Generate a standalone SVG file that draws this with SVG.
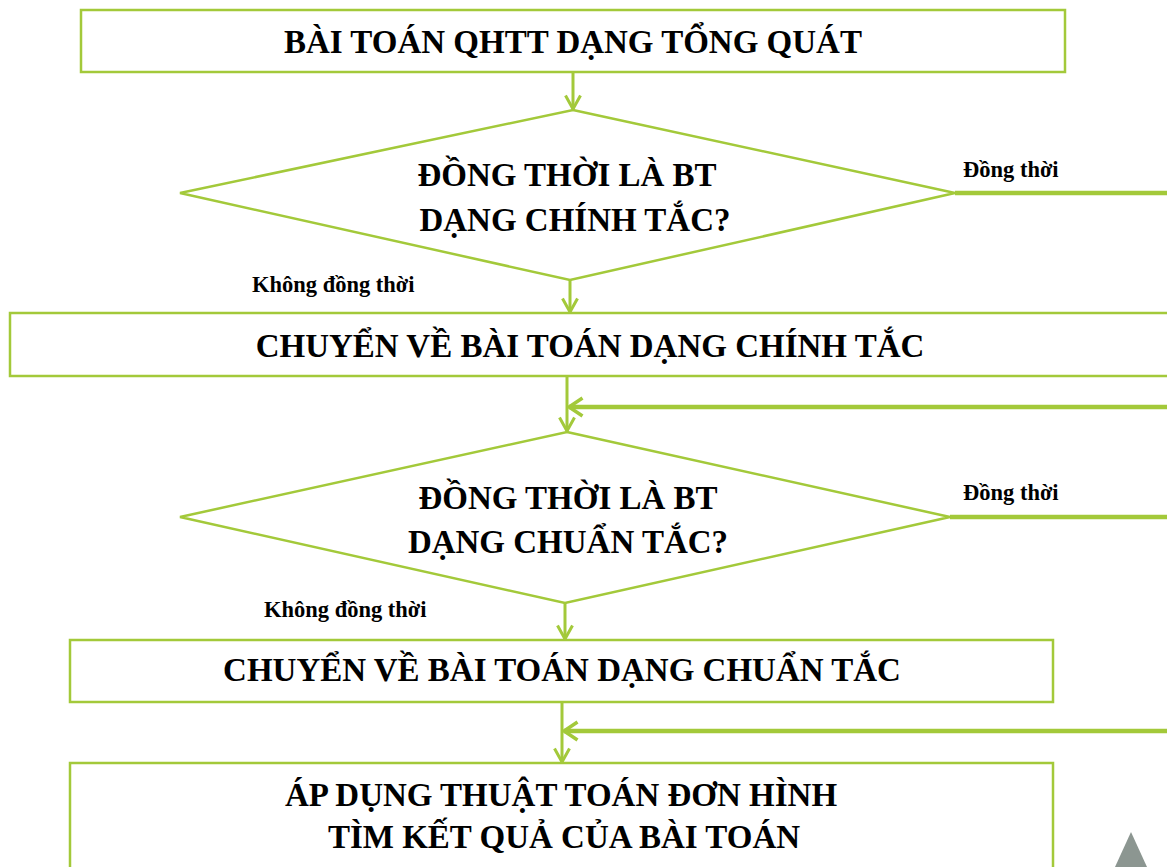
<svg xmlns="http://www.w3.org/2000/svg" width="1167" height="867" viewBox="0 0 1167 867">
<style>
.box{fill:#fff;stroke:#a3c93a;stroke-width:2.5}
.dia{fill:#fff;stroke:#a3c93a;stroke-width:2.5}
.t{font-family:"Liberation Serif","Times New Roman",serif;font-weight:bold;font-size:33px;fill:#000;text-anchor:middle}
.lbl{font-family:"Liberation Serif","Times New Roman",serif;font-weight:bold;font-size:22.5px;fill:#000}
.c{fill:none;stroke:#a3c93a;stroke-width:3}
.ct{fill:none;stroke:#a3c93a;stroke-width:4.5}
</style>
<defs>
<marker id="ah" viewBox="0 0 16 18" refX="15" refY="9" markerWidth="16" markerHeight="18" markerUnits="userSpaceOnUse" orient="auto">
<path d="M1.5,1.5 L15,9 L1.5,16.5" fill="none" stroke="#a3c93a" stroke-width="3"/>
</marker>
<marker id="ahb" viewBox="0 0 18 22" refX="16" refY="11" markerWidth="18" markerHeight="22" markerUnits="userSpaceOnUse" orient="auto">
<path d="M2.5,2 L16,11 L2.5,20" fill="none" stroke="#a3c93a" stroke-width="3.5"/>
</marker>
</defs>
<rect width="1167" height="867" fill="#fff"/>
<g id="connectors">
<line class="c" x1="573" y1="72" x2="573" y2="109" marker-end="url(#ah)"/>
<line class="c" x1="570" y1="280" x2="570" y2="312" marker-end="url(#ah)"/>
<line class="c" x1="567" y1="376" x2="567" y2="431" marker-end="url(#ah)"/>
<line class="ct" x1="1170" y1="407" x2="569" y2="407" marker-end="url(#ahb)"/>
<line class="ct" x1="955" y1="193" x2="1170" y2="193"/>
<line class="ct" x1="950" y1="517" x2="1170" y2="517"/>
<line class="c" x1="565" y1="603" x2="565" y2="639" marker-end="url(#ah)"/>
<line class="c" x1="562" y1="702" x2="562" y2="762" marker-end="url(#ah)"/>
<line class="ct" x1="1170" y1="731" x2="564" y2="731" marker-end="url(#ahb)"/>
</g>
<g id="n1">
<rect class="box" x="81" y="10" width="984" height="62"/>
<text class="t" x="573" y="53">BÀI TOÁN QHTT DẠNG TỔNG QUÁT</text>
</g>
<g id="d1">
<polygon class="dia" points="573,110 955,193 570,280 180,193"/>
<text class="t" x="567" y="186">ĐỒNG THỜI LÀ BT</text>
<text class="t" x="575" y="231">DẠNG CHÍNH TẮC?</text>
</g>
<g id="l1"><text class="lbl" x="963" y="177">Đồng thời</text></g>
<g id="l2"><text class="lbl" x="252" y="292">Không đồng thời</text></g>
<g id="n2">
<rect class="box" x="10" y="313" width="1175" height="63"/>
<text class="t" x="590" y="357">CHUYỂN VỀ BÀI TOÁN DẠNG CHÍNH TẮC</text>
</g>
<g id="d2">
<polygon class="dia" points="567,432 950,517 565,603 180,517"/>
<text class="t" x="568" y="509">ĐỒNG THỜI LÀ BT</text>
<text class="t" x="568" y="553">DẠNG CHUẨN TẮC?</text>
</g>
<g id="l3"><text class="lbl" x="963" y="500">Đồng thời</text></g>
<g id="l4"><text class="lbl" x="264" y="617">Không đồng thời</text></g>
<g id="n3">
<rect class="box" x="70" y="640" width="983" height="62"/>
<text class="t" x="562" y="681">CHUYỂN VỀ BÀI TOÁN DẠNG CHUẨN TẮC</text>
</g>
<g id="n4">
<rect class="box" x="70" y="763" width="983" height="130"/>
<text class="t" x="561" y="806">ÁP DỤNG THUẬT TOÁN ĐƠN HÌNH</text>
<text class="t" x="564" y="848">TÌM KẾT QUẢ CỦA BÀI TOÁN</text>
</g>
<polygon points="1131,832 1147,867 1115,867" fill="#8c9691"/>
</svg>
